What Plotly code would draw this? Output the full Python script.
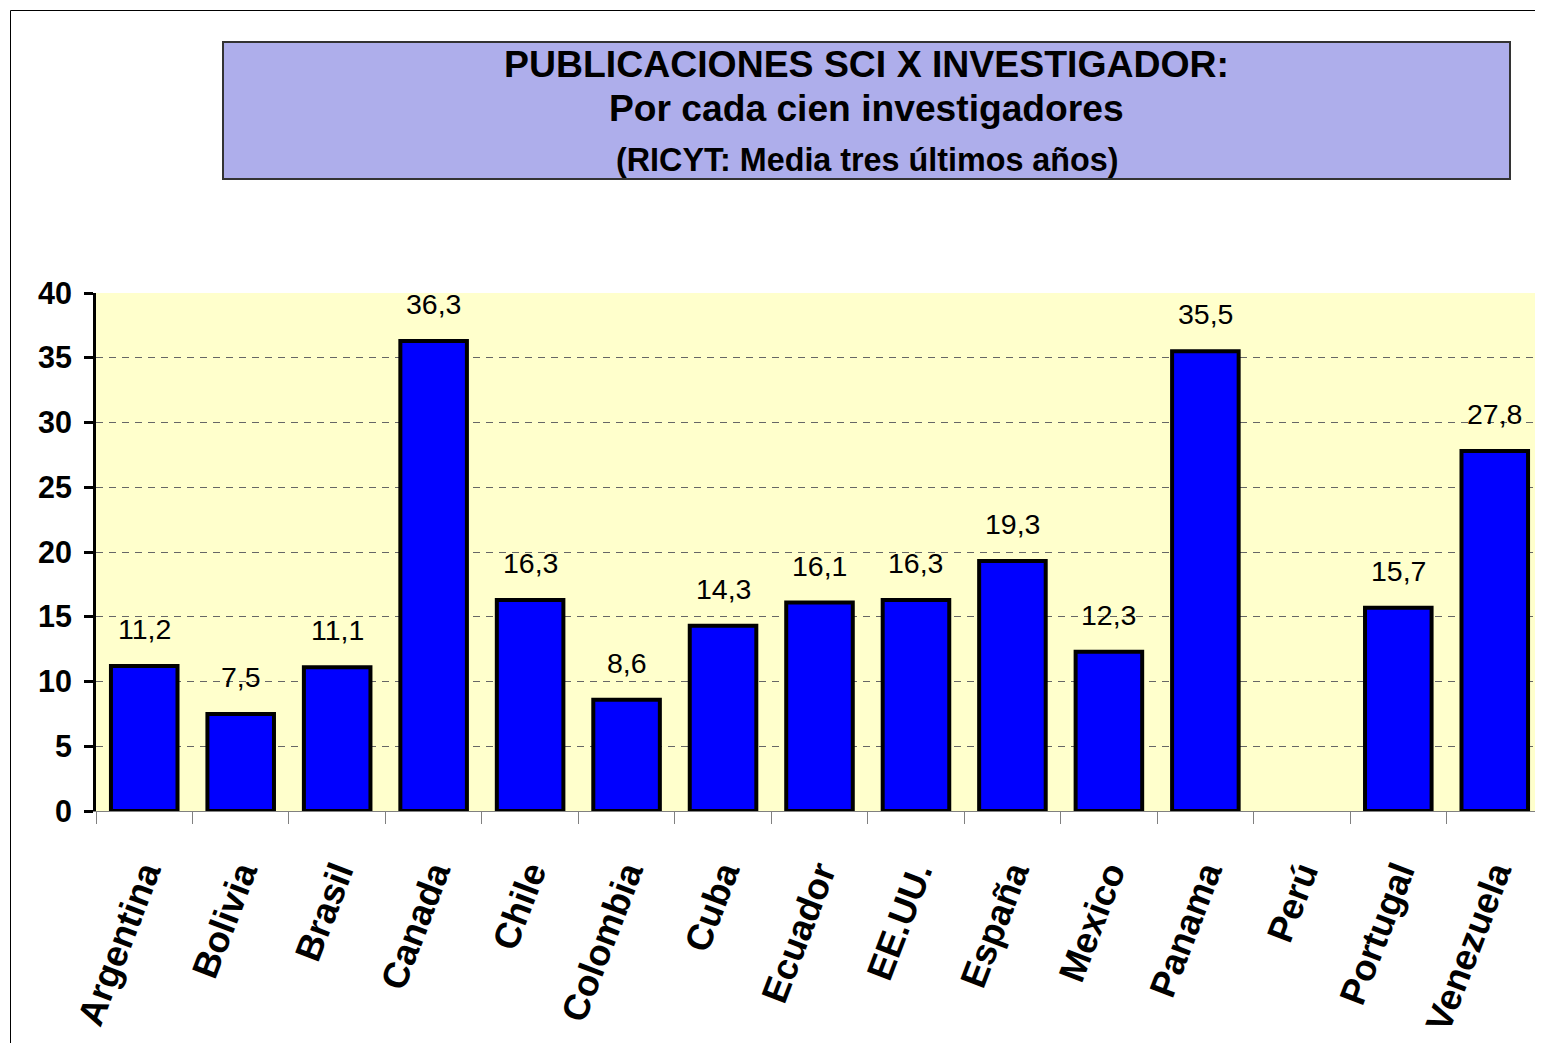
import plotly.graph_objects as go

countries = ["Argentina", "Bolivia", "Brasil", "Canada", "Chile", "Colombia", "Cuba",
             "Ecuador", "EE.UU.", "España", "Mexico", "Panama", "Perú", "Portugal", "Venezuela"]
values = [11.2, 7.5, 11.1, 36.3, 16.3, 8.6, 14.3, 16.1, 16.3, 19.3, 12.3, 35.5, None, 15.7, 27.8]
labels = ["11,2", "7,5", "11,1", "36,3", "16,3", "8,6", "14,3", "16,1", "16,3", "19,3",
          "12,3", "35,5", "", "15,7", "27,8"]
y_ticks = [0, 5, 10, 15, 20, 25, 30, 35, 40]

title_lines = ["PUBLICACIONES SCI X INVESTIGADOR:", "Por cada cien investigadores",
               "(RICYT: Media tres últimos años)"]

OFF = 8  # page body margin
W, H = 1543 - OFF, 1051 - 2 * OFF
ML, MR, MT = 96 - OFF, 0, 293 - OFF
MB = H - MT - (811 - 293)
PW = W - ML - MR
PH = H - MT - MB


def px_x(px):
    return (px - OFF - ML) / PW


def px_y(py):
    return (MT + PH - (py - OFF)) / PH


FONT = "Arial, Liberation Sans, sans-serif"

fig = go.Figure()
fig.add_trace(go.Bar(
    x=countries, y=values, width=0.69,
    marker=dict(color="#0000FF", line=dict(color="black", width=4)),
    hoverinfo="x+y",
))

annotations = []
for c, v, t in zip(countries, values, labels):
    if v is None:
        continue
    annotations.append(dict(x=c, y=v, text=t, showarrow=False, yanchor="bottom",
                            yshift=19, font=dict(family=FONT, size=28.5, color="black")))

# title texts
title_sizes = [37.4, 37.2, 32.3]
title_y = [64, 108, 160]
for txt, s, ty in zip(title_lines, title_sizes, title_y):
    annotations.append(dict(xref="paper", yref="paper", x=px_x(866.5), y=px_y(ty),
                            text="<b>" + txt + "</b>", showarrow=False,
                            xanchor="center", yanchor="middle",
                            font=dict(family=FONT, size=s, color="black")))

shapes = [
    # outer frame
    dict(type="rect", xref="paper", yref="paper",
         x0=px_x(10.5), x1=px_x(1543 + 20), y0=px_y(1051 + 20), y1=px_y(10.5),
         line=dict(color="black", width=1), fillcolor="rgba(0,0,0,0)", layer="above"),
    # title box
    dict(type="rect", xref="paper", yref="paper",
         x0=px_x(223), x1=px_x(1510), y0=px_y(179), y1=px_y(42),
         line=dict(color="#333333", width=2), fillcolor="#AEAEEB", layer="below"),
]

fig.update_layout(
    width=W, height=H,
    margin=dict(l=ML, r=MR, t=MT, b=MB, pad=0),
    paper_bgcolor="white",
    plot_bgcolor="#FFFFCC",
    showlegend=False,
    annotations=annotations,
    shapes=shapes,
    font=dict(family=FONT, color="black"),
)

fig.update_yaxes(
    range=[0, 40], tickvals=y_ticks, ticktext=[str(t) for t in y_ticks],
    showline=True, linecolor="black", linewidth=3,
    ticks="outside", ticklen=9, tickwidth=3, tickcolor="black",
    ticklabelstandoff=6,
    tickfont=dict(family=FONT, size=30.5, color="black", weight="bold"),
    showgrid=True, gridcolor="#666666", gridwidth=1, griddash="7px,6px",
    zeroline=False, fixedrange=True,
)

fig.update_xaxes(
    type="category", categoryorder="array", categoryarray=countries,
    showline=True, linecolor="#808080", linewidth=1,
    ticks="outside", ticklen=12, tickwidth=1, tickcolor="#808080",
    tickson="boundaries", tickangle=-69,
    ticklabelstandoff=25,
    tickfont=dict(family=FONT, size=36.5, color="black", weight="bold"),
    showgrid=False, zeroline=False, fixedrange=True,
)

fig.write_html("out.html")
